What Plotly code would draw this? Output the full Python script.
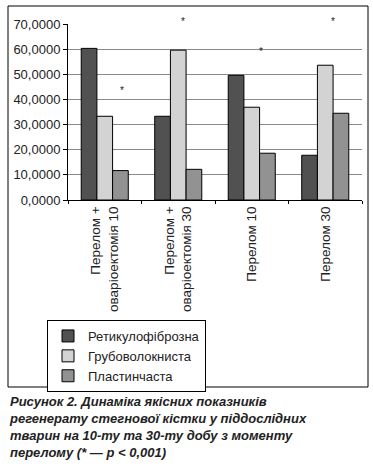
import plotly.graph_objects as go

categories = ["Перелом +<br>оваріоектомія 10", "Перелом +<br>оваріоектомія 30", "Перелом 10", "Перелом 30"]
series_names = ["Ретикулофіброзна", "Грубоволокниста", "Пластинчаста"]
retik = [60.3, 33.3, 49.6, 17.8]
grub = [33.3, 59.6, 36.9, 53.6]
plast = [11.7, 12.2, 18.6, 34.5]
star_values = [44.8, 72.0, 60.3, 72.0]
y_ticks = [0, 10, 20, 30, 40, 50, 60, 70]
caption = ("Рисунок 2. Динаміка якісних показників<br>"
           "регенерату стегнової кістки у піддослідних<br>"
           "тварин на 10-ту та 30-ту добу з моменту<br>"
           "перелому (* — p < 0,001)")

colors = ["#515151", "#d3d3d3", "#929292"]
star_offsets = [0.24, 0.07, 0.13, 0.11]
FONT = "Liberation Sans, Arial, sans-serif"
Y_MAX = 70

W, H = 373, 468
L, R, T, B = 68, 11, 24, 268
pw, ph = W - L - R, H - T - B

def px(x):
    return (x - L) / pw

def py(y):
    return (H - B - y) / ph

fig = go.Figure()
for name, vals, c in zip(series_names, [retik, grub, plast], colors):
    fig.add_trace(go.Bar(x=categories, y=vals, name=name, marker=dict(color=c, line=dict(color="#000", width=1))))

# invisible trace to activate overlay axis for star annotations
fig.add_trace(go.Scatter(x=[0], y=[0], xaxis="x2", mode="markers", marker=dict(opacity=0),
                         showlegend=False, hoverinfo="skip"))

for i, (o, v) in enumerate(zip(star_offsets, star_values)):
    fig.add_annotation(xref="x2", yref="y domain", x=i + o, y=v / Y_MAX, text="*", showarrow=False,
                       xanchor="center", yanchor="middle", yshift=-3,
                       font=dict(family=FONT, size=10, color="#222"))

fig.update_layout(
    width=W, height=H, margin=dict(l=L, r=R, t=T, b=B, pad=0),
    paper_bgcolor="white", plot_bgcolor="white",
    barmode="group", bargap=0.36, bargroupgap=0,
    separators=",.",
    font=dict(family=FONT, size=13.5, color="#222"),
    xaxis=dict(type="category", tickson="boundaries", ticks="outside", ticklen=3, tickcolor="#000",
               showline=True, linecolor="#000", linewidth=1, showgrid=False, tickangle=-90,
               tickfont=dict(size=13.5, color="#222"), range=[-0.5, 3.5]),
    xaxis2=dict(overlaying="x", range=[-0.5, 3.5], visible=False),
    yaxis=dict(range=[0, Y_MAX], tickvals=y_ticks, tickformat=".4f", ticks="outside", ticklen=4,
               tickcolor="#000", showline=True, linecolor="#000", linewidth=1,
               showgrid=True, gridcolor="#8a8a8a", gridwidth=1, zeroline=False,
               tickfont=dict(size=13, color="#222")),
    legend=dict(x=px(47), y=py(320), xanchor="left", yanchor="top", bordercolor="#000", borderwidth=1,
                bgcolor="white", font=dict(size=13, color="#222"), traceorder="normal",
                itemwidth=30, tracegroupgap=0),
    showlegend=True,
)

fig.add_shape(type="rect", xref="paper", yref="paper", x0=px(8), x1=px(368), y0=py(387), y1=py(6),
              line=dict(color="#000", width=1), fillcolor="rgba(0,0,0,0)", layer="below")

fig.add_annotation(xref="paper", yref="paper", x=px(7), y=py(392), xanchor="left", yanchor="top",
                   text="<b><i>" + caption + "</i></b>", showarrow=False, align="left",
                   font=dict(family=FONT, size=13, color="#222"))

fig.write_html("out.html", config={"displayModeBar": False},
               post_script="document.body.style.margin='0';")
